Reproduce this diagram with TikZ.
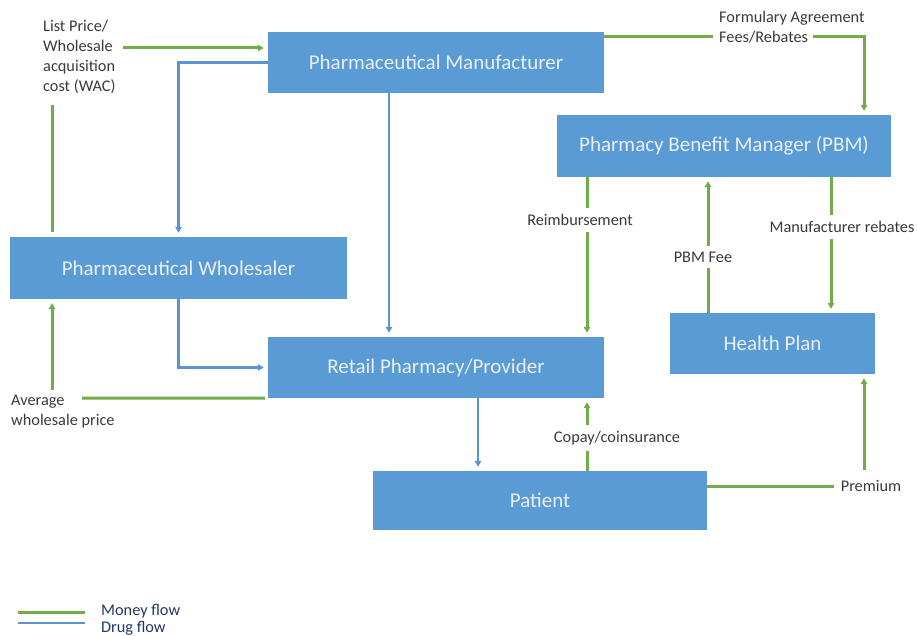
\documentclass[tikz,border=0pt]{standalone}
\usepackage{fontspec}
\setmainfont{Carlito}
\usetikzlibrary{arrows.meta}
\definecolor{boxblue}{HTML}{5B9BD5}
\definecolor{boxtext}{HTML}{E8F0F9}
\definecolor{moneyg}{HTML}{70AD47}
\definecolor{drugb}{HTML}{5A93D0}
\definecolor{labtext}{HTML}{3A3A3A}
\definecolor{legtext}{HTML}{203864}
\tikzset{
  entity/.style={fill=boxblue, draw=none, text=boxtext, font=\fontsize{21}{25}\selectfont, inner sep=0pt},
  flowlabel/.style={text=labtext, font=\fontsize{16.3}{20}\selectfont, inner sep=1pt, align=left},
  gaplabel/.style={flowlabel, fill=white, inner xsep=1pt, inner ysep=6pt},
  legendtext/.style={text=legtext, font=\fontsize{16.3}{17}\selectfont, inner sep=0pt, anchor=west},
  money/.style={draw=moneyg, line width=3pt},
  drug/.style={draw=drugb, line width=2.6pt},
  tip/.style={-{Triangle[length=6pt,width=6.5pt]}, shorten >=4pt},
}
\begin{document}
\begin{tikzpicture}[x=1pt,y=-1pt]
\useasboundingbox (0,0) rectangle (917,636);

% boxes
\node[entity, minimum width=336pt, minimum height=61pt] (mfr) at (436,62.5) {Pharmaceutical Manufacturer};
\node[entity, minimum width=334pt, minimum height=62pt] (pbm) at (724,146) {Pharmacy Benefit Manager (PBM)};
\node[entity, minimum width=337pt, minimum height=62pt] (whl) at (178.5,268) {Pharmaceutical Wholesaler};
\node[entity, minimum width=336pt, minimum height=61pt] (ret) at (436,367.5) {Retail Pharmacy/Provider};
\node[entity, minimum width=205pt, minimum height=61pt] (hp) at (772.5,343.5) {Health Plan};
\node[entity, minimum width=334pt, minimum height=59pt] (pat) at (540,500.5) {Patient};

% column helpers
\coordinate (c389) at (389,0);
\coordinate (c478) at (478,0);
\coordinate (c587) at (587,0);
\coordinate (c708) at (708,0);
\coordinate (c831) at (831,0);
\coordinate (c864) at (864,0);

% labels without gaps
\node[flowlabel, anchor=west] (lp) at (42,57) {List Price/\\Wholesale\\acquisition\\cost (WAC)};
\node[flowlabel, anchor=west] (avg) at (10,412) {Average\\wholesale price};
\node[flowlabel, anchor=west] (fa) at (718,18) {Formulary Agreement};
\node[flowlabel, anchor=west] (fr) at (718,37) {Fees/Rebates};
\node[flowlabel] (prem) at (871,486) {Premium};

% list price
\coordinate (lpa) at (123,48);
\draw[money,tip] (lpa) -- (lpa -| mfr.west);
\coordinate (lpv) at (52,105);
\draw[money, shorten >=5pt] (lpv) -- (whl.north -| lpv);

% average wholesale price
\coordinate (avgh) at (82,398);
\draw[money, shorten <=3pt] (ret.south west) -- (avgh);
\coordinate (avgv) at (52,390);
\draw[money,tip] (avgv) -- (whl.south -| avgv);

% formulary
\draw[money] (mfr.east |- fr.west) -- ([xshift=-5pt]fr.west);
\draw[money,tip] ([xshift=4pt]fr.east) -| (pbm.north -| c864);

% drug flows
\draw[drug,tip] (mfr.west) -| (whl.north);
\draw[drug,tip] (mfr.south -| c389) -- (ret.north -| c389);
\draw[drug,tip] (whl.south) |- (ret.west);
\draw[drug,tip] (ret.south -| c478) -- (pat.north -| c478);

% money flows with interrupting labels
\draw[money,tip] (pbm.south -| c587) -- (ret.north -| c587);
\draw[money,tip] (hp.north -| c708) -- (pbm.south -| c708);
\draw[money,tip] (pbm.south -| c831) -- (hp.north -| c831);
\draw[money,tip] (pat.north -| c587) -- (ret.south -| c587);

\node[gaplabel] (reimb) at (580,220) {Reimbursement};
\node[gaplabel] (pbmfee) at (703,257) {PBM Fee};
\node[gaplabel] (mreb) at (842,227) {Manufacturer rebates};
\node[gaplabel] (copay) at (617,438) {Copay/coinsurance};

% premium
\draw[money] (pat.east |- prem.west) -- ([xshift=-6pt]prem.west);
\coordinate (premv) at (864,470);
\draw[money,tip] (premv) -- (hp.south -| premv);

% legend
\coordinate (lm1) at (18,612);
\coordinate (lm2) at (85,612);
\coordinate (ld1) at (18,623);
\coordinate (ld2) at (85,623);
\draw[money] (lm1) -- (lm2);
\draw[drug] (ld1) -- (ld2);
\node[legendtext] (lgm) at (101,611) {Money flow};
\node[legendtext] (lgd) at (101,628) {Drug flow};
\end{tikzpicture}
\end{document}
